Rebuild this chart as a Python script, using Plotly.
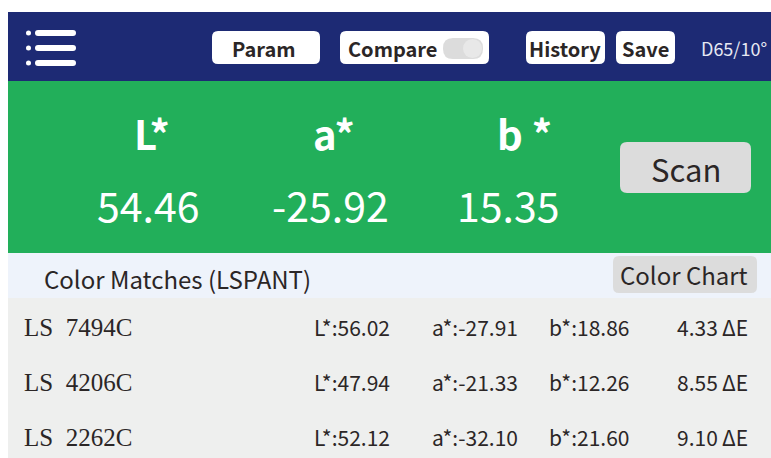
import plotly.graph_objects as go

W, H = 771, 458

# ---- data ----
top_buttons = ["Param", "Compare", "History", "Save"]
illuminant = "D65/10°"
lab_labels = ["L*", "a*", "b *"]
lab_values = [54.46, -25.92, 15.35]
library_name = "LSPANT"
match_names = ["LS  7494C", "LS  4206C", "LS  2262C"]
match_L = [56.02, 47.94, 52.12]
match_a = [-27.91, -21.33, -32.10]
match_b = [18.86, 12.26, 21.60]
match_dE = [4.33, 8.55, 9.10]

NAVY = "#1D2A74"
GREEN = "#22AF5A"
FONT = "Noto Sans CJK SC"
SERIF = "Liberation Serif"


def rrect(x0, y0, x1, y1, r):
    return (f"M{x0+r},{y0} L{x1-r},{y0} Q{x1},{y0} {x1},{y0+r} "
            f"L{x1},{y1-r} Q{x1},{y1} {x1-r},{y1} L{x0+r},{y1} "
            f"Q{x0},{y1} {x0},{y1-r} L{x0},{y0+r} Q{x0},{y0} {x0+r},{y0} Z")


shapes = []
ann = []


def rect(x0, y0, x1, y1, color):
    shapes.append(dict(type="rect", x0=x0, y0=y0, x1=x1, y1=y1,
                       fillcolor=color, line=dict(width=0), layer="below"))


def rpath(x0, y0, x1, y1, r, color):
    shapes.append(dict(type="path", path=rrect(x0, y0, x1, y1, r),
                       fillcolor=color, line=dict(width=0), layer="below"))


def text(x, y, s, size, color="#2b2626", font=FONT, xanchor="center", bold=False):
    if bold:
        s = f"<b>{s}</b>"
    ann.append(dict(x=x, y=y, text=s, showarrow=False, xanchor=xanchor,
                    yanchor="middle", font=dict(size=size, color=color, family=font)))


# backgrounds
rect(8, 12, W, 81, NAVY)
rect(8, 81, W, 253, GREEN)
rect(8, 253, W, 298, "#EEF3FB")
rect(8, 298, W, H, "#EEEFEE")

# menu icon
for yy in [33, 48, 63]:
    shapes.append(dict(type="circle", x0=26, x1=31, y0=yy - 2.5, y1=yy + 2.5,
                       fillcolor="white", line=dict(width=0)))
    rpath(35, yy - 3, 76, yy + 3, 3, "white")

# top buttons
btn_boxes = [(212, 320), (340, 489), (526, 605), (616, 675)]
for (x0, x1), label in zip(btn_boxes, top_buttons):
    rpath(x0, 31, x1, 64, 6, "white")
text(264, 48, top_buttons[0], 20, bold=True)
text(392, 48, top_buttons[1], 20, bold=True)
text(565, 48, top_buttons[2], 20, bold=True)
text(645, 48, top_buttons[3], 20, bold=True)
# toggle
rpath(443, 38, 483, 59, 10, "#DCDCDC")
shapes.append(dict(type="circle", x0=463, x1=482, y0=39, y1=58,
                   fillcolor="#E8E8E8", line=dict(width=0)))
text(699, 48, illuminant, 18, color="#E6E8F2", xanchor="left")

# Lab readout
lab_x = [152, 334, 524]
val_x = [148, 330, 508]
for x, lab in zip(lab_x, lab_labels):
    text(x, 133, lab, 40, color="white", bold=True)
for x, v in zip(val_x, lab_values):
    text(x, 204, f"{v:.2f}", 41, color="white")

# Scan button
rpath(620, 142, 751, 193, 7, "#DCDCDC")
text(686, 168, "Scan", 31)

# Color matches header
text(42, 278, f"Color Matches ({library_name})", 24, xanchor="left")
rpath(613, 256, 757, 293, 6, "#DCDCDC")
text(684, 274, "Color Chart", 24)

# table rows
row_y = [327, 382, 437]
for y, n, L, a, b, dE in zip(row_y, match_names, match_L, match_a, match_b, match_dE):
    text(22, y, n, 25, font=SERIF, xanchor="left")
    text(312, y, f"L*:{L:.2f}", 21, xanchor="left")
    text(430, y, f"a*:{a:.2f}", 21, xanchor="left")
    text(547, y, f"b*:{b:.2f}", 21, xanchor="left")
    text(750, y, f"{dE:.2f}\u2009ΔE", 21, xanchor="right")

fig = go.Figure()
fig.update_layout(
    width=W, height=H, margin=dict(l=0, r=0, t=0, b=0),
    paper_bgcolor="white", plot_bgcolor="white",
    xaxis=dict(range=[0, W], visible=False, fixedrange=True),
    yaxis=dict(range=[H, 0], visible=False, fixedrange=True),
    shapes=shapes, annotations=ann, showlegend=False,
)
fig.write_html(
    "out.html",
    config={"displayModeBar": False, "staticPlot": True},
    post_script="document.body.style.margin='0';document.body.style.overflow='hidden';",
)
